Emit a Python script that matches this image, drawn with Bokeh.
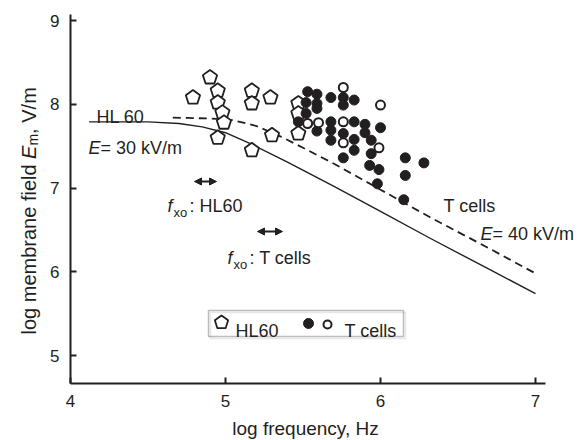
from math import cos, sin, pi
from bokeh.plotting import figure
from bokeh.models import Range1d, Label, Arrow, NormalHead, FixedTicker, BoxAnnotation
from bokeh.embed import file_html
from bokeh.resources import INLINE

# ---------------- data ----------------
x_ticks = [4, 5, 6, 7]
y_ticks = [5, 6, 7, 8, 9]

# E = 30 kV/m model curve (HL60), solid
solid_x = [4.12, 4.5, 4.7, 4.85, 5.0, 5.16, 5.4, 5.7, 6.0, 6.32, 6.7, 7.0]
solid_y = [7.79, 7.79, 7.77, 7.73, 7.66, 7.53, 7.31, 7.02, 6.72, 6.40, 6.03, 5.74]

# E = 40 kV/m model curve (T cells), dashed
dash_x = [4.66, 4.9, 5.05, 5.2, 5.35, 5.5, 5.7, 6.0, 6.32, 6.7, 7.0]
dash_y = [7.84, 7.83, 7.81, 7.74, 7.62, 7.48, 7.29, 6.98, 6.65, 6.28, 5.98]

# HL60 measurements (open pentagons)
hl60_x = [4.79, 4.90, 4.95, 4.95, 4.98, 4.99, 4.95, 5.17, 5.17, 5.29, 5.17, 5.30, 5.47, 5.47, 5.47]
hl60_y = [8.08, 8.32, 8.16, 8.02, 7.90, 7.78, 7.60, 8.16, 8.01, 8.08, 7.45, 7.63, 8.01, 7.89, 7.65]

# T cells measurements, filled circles
tf_x = [5.53, 5.59, 5.52, 5.59, 5.59, 5.52, 5.47, 5.59, 5.68, 5.76, 5.76, 5.68, 5.68, 5.76, 5.68, 5.76,
        5.83, 5.83, 5.90, 5.90, 5.83, 5.83, 6.00, 5.94, 5.94, 5.93, 5.99, 5.98, 6.16, 6.28, 6.16, 6.15]
tf_y = [8.15, 8.12, 8.02, 8.01, 7.95, 7.89, 7.79, 7.68, 8.08, 8.08, 7.99, 7.79, 7.69, 7.65, 7.57, 7.36,
        8.05, 7.79, 7.76, 7.66, 7.58, 7.45, 7.72, 7.57, 7.41, 7.27, 7.22, 7.05, 7.36, 7.30, 7.15, 6.86]

# T cells measurements, open circles
to_x = [5.76, 5.53, 5.60, 5.76, 5.76, 6.00, 5.99]
to_y = [8.20, 7.77, 7.78, 7.79, 7.54, 7.99, 7.48]

# ---------------- layout ----------------
INK = "#231f20"
FONT = "Liberation Sans"
W, H = 582, 440
FL, FR, FT, FB = 70, 545, 14, 383          # axis box edges in canvas pixels
XS, YS = 155.0, 83.75                      # pixels per unit
X0 = 4.0
X1 = X0 + (FR - FL) / XS
Y0 = 5 - (FB - 355) / YS
Y1 = Y0 + (FB - FT) / YS


def dx(px):
    return X0 + (px - FL) / XS


def dy(py):
    return Y0 + (FB - py) / YS


AW = {' ': 278, ',': 278, '/': 278, ':': 278, '=': 584, 'E': 667, 'V': 667, 'a': 556, 'b': 556,
      'd': 556, 'e': 556, 'f': 278, 'g': 556, 'i': 222, 'l': 222, 'm': 833, 'n': 556, 'o': 556, 'r': 333}


def tw(s, fs):
    return sum(AW.get(c, 556) for c in s) * fs / 1000.0


# the frame covers the whole canvas; axes are pinned at data locations
p = figure(width=W, height=H,
           x_range=Range1d(dx(0), dx(W)), y_range=Range1d(dy(H), dy(0)),
           output_backend="svg", toolbar_location=None,
           min_border_left=0, min_border_right=0, min_border_top=0, min_border_bottom=0)
p.outline_line_color = None
p.grid.visible = False
p.background_fill_color = "white"
p.border_fill_color = "white"

xa, ya = p.xaxis[0], p.yaxis[0]
xa.fixed_location = Y0
xa.bounds = (X0, X1)
ya.fixed_location = X0
ya.bounds = (Y0, Y1)
for ax in (xa, ya):
    ax.axis_line_width = 2
    ax.axis_line_color = INK
    ax.major_tick_line_color = INK
    ax.major_tick_line_width = 2
    ax.major_tick_in = 6
    ax.major_tick_out = 0
    ax.minor_tick_line_color = None
    ax.major_label_text_font = FONT
    ax.major_label_text_font_size = "17px"
    ax.major_label_text_color = INK
xa.ticker = FixedTicker(ticks=x_ticks)
ya.ticker = FixedTicker(ticks=y_ticks)
xa.major_label_standoff = 11
ya.major_label_standoff = 11


def pentagons(xs, ys, r=7.5):
    px, py = [], []
    for cx, cy in zip(xs, ys):
        angs = [pi / 2 + 2 * pi * k / 5 for k in range(5)]
        px.append([cx + r * cos(a) / XS for a in angs])
        py.append([cy + r * sin(a) / YS for a in angs])
    return px, py


# curves
p.line(dash_x, dash_y, line_color=INK, line_width=1.8, line_dash="8 5")
p.line(solid_x, solid_y, line_color=INK, line_width=1.4)

# HL60 pentagons
hx, hy = pentagons(hl60_x, hl60_y)
p.patches(hx, hy, fill_color="white", line_color=INK, line_width=1.8)

# T cells
p.scatter(tf_x, tf_y, marker="circle", size=10, fill_color=INK, line_color=INK)
p.scatter(to_x, to_y, marker="circle", size=9, fill_color="white", line_color=INK, line_width=2)


def lab(px, py, text, fs=18, style="normal", align="left", angle=0.0):
    p.add_layout(Label(x=dx(px), y=dy(py), text=text, text_font=FONT, text_font_size=f"{fs}px",
                       text_font_style=style, text_color=INK, text_align=align,
                       text_baseline="alphabetic", angle=angle))


# curve annotations
lab(96, 116, "HL 60")
lab(88, 147, "E", style="italic")
lab(100, 147, "= 30 kV/m")
lab(443, 205, "T cells")
lab(480, 233, "E", style="italic")
lab(492, 233, "= 40 kV/m")

# crossover frequency annotations
lab(167, 205, "f", style="italic")
lab(173, 212, "xo", fs=13)
lab(189, 205, ": HL60")
lab(227, 257, "f", style="italic")
lab(233, 264, "xo", fs=13)
lab(249, 257, ": T cells")
for (x_a, x_b, y_a) in [(194, 216, 181), (257, 282, 231)]:
    p.add_layout(Arrow(start=NormalHead(size=7, fill_color=INK, line_color=INK),
                       end=NormalHead(size=7, fill_color=INK, line_color=INK),
                       x_start=dx(x_a), y_start=dy(y_a), x_end=dx(x_b), y_end=dy(y_a),
                       line_color=INK, line_width=2))

# legend
p.add_layout(BoxAnnotation(left=dx(210), right=dx(405), top=dy(312), bottom=dy(338),
                           fill_alpha=0, line_color="#b0b0b0", line_width=1.5))
p.add_layout(BoxAnnotation(left=dx(208), right=dx(403), top=dy(310), bottom=dy(336),
                           fill_alpha=0, line_color=INK, line_width=1.5))
lx, ly = pentagons([dx(221)], [dy(322)], r=7)
p.patches(lx, ly, fill_color="white", line_color=INK, line_width=1.8)
lab(235, 330, "HL60")
p.scatter([dx(308)], [dy(323)], marker="circle", size=10, fill_color=INK, line_color=INK)
p.scatter([dx(327)], [dy(324)], marker="circle", size=8, fill_color="white", line_color=INK, line_width=2)
lab(344, 330, "T cells")

# axis titles
lab(305, 428, "log frequency, Hz", fs=19, align="center")
fs_y = 20
base_x = 28
y_cur = 334
lab(base_x, y_cur, "log membrane field ", fs=fs_y, angle=pi / 2)
y_cur -= tw("log membrane field ", fs_y)
lab(base_x, y_cur, "E", fs=fs_y, style="italic", angle=pi / 2)
y_cur -= tw("E", fs_y)
lab(base_x + 4, y_cur, "m", fs=14, angle=pi / 2)
y_cur -= tw("m", 14)
lab(base_x, y_cur, ", V/m", fs=fs_y, angle=pi / 2)

open("out.html", "w").write(file_html(p, INLINE))
